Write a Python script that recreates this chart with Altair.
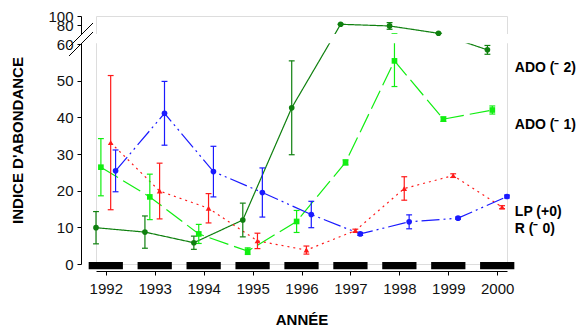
import altair as alt
import pandas as pd

# ---------------- data ----------------
years = [1992, 1993, 1994, 1995, 1996, 1997, 1998, 1999, 2000]

ado2 = [9.9, 8.7, 5.8, 12.0, 42.6, 82.5, 79.0, 63.5, 58.4]
ado2_err = [4.4, 4.4, 1.8, 4.6, 12.8, 0.5, 7.0, 0.5, 1.2]

ado1 = [26.4, 18.3, 8.2, 3.5, 11.6, 27.7, 55.4, 39.5, 42.0]
ado1_err = [7.8, 6.2, 2.6, 0.9, 3.0, 0.7, 7.0, 0.6, 1.1]

r_vals = [33.1, 19.9, 15.2, 6.3, 3.8, 9.1, 20.6, 24.1, 15.5]
r_err = [18.3, 7.6, 4.0, 2.1, 1.1, 0.4, 3.2, 0.5, 0.4]

lp_vals = [25.4, 41.1, 25.2, 19.5, 13.5, 8.2, 11.5, 12.5, 18.4]
lp_err = [5.7, 8.7, 6.9, 6.7, 3.6, 0.4, 1.9, 0.3, 0.4]

series_keys = ["ado2", "ado1", "r", "lp"]
label_texts = ["ADO (\u207b 2)", "ADO (\u207b 1)", "LP (+0)", "R (\u207b 0)"]
label_values = [53.5, 37.9, 14.2, 9.5]

y_ticks = [0, 10, 20, 30, 40, 50, 60, 80, 100]

# ---------------- styles ----------------
offsets = {"ado2": -0.2, "ado1": -0.1, "r": 0.1, "lp": 0.2}
colors = ["#0f800f", "#11ee11", "#ff1a1a", "#1a1aff"]
shapes = ["circle", "square", "triangle-up", "circle"]
dashes = [[1, 0], [20, 6], [2, 4], [18, 4, 2, 4, 2, 4]]
FONT = "Arial, Liberation Sans, sans-serif"

vals = {"ado2": (ado2, ado2_err), "ado1": (ado1, ado1_err),
        "r": (r_vals, r_err), "lp": (lp_vals, lp_err)}
rows = []
for k in series_keys:
    m, e = vals[k]
    for yr, mv, ev in zip(years, m, e):
        rows.append({"series": k, "year": yr, "x": yr + offsets[k],
                     "mean": mv, "lo": mv - ev, "hi": mv + ev})
df = pd.DataFrame(rows)

xs = alt.Scale(domain=[1991.8, 2000.2], nice=False, zero=False)
ys = alt.Scale(domain=[0, 60, 62, 100], range=[248, 28, 18, 0], nice=False, zero=False)
cs = alt.Scale(domain=series_keys, range=colors)

XAX = alt.Axis(
    values=years, format="d", title="ANNÉE", offset=7, tickSize=4,
    labelPadding=6, labelFontSize=15, titleFontSize=15, titleFontWeight="bold",
    titlePadding=16, grid=False, labelFlush=False, labelFont=FONT, titleFont=FONT,
    labelOverlap=False,
    domainColor="#000", tickColor="#000", labelColor="#111", titleColor="#000")
YAX = alt.Axis(
    values=y_ticks, title="INDICE D'ABONDANCE", offset=15, tickSize=4,
    labelPadding=4, labelFontSize=15, titleFontSize=15, titleFontWeight="bold",
    titlePadding=22, grid=False, labelOverlap=False, labelFlush=False,
    labelFont=FONT, titleFont=FONT,
    domainColor="#000", tickColor="#000", labelColor="#111", titleColor="#000")


def XE(f):
    return alt.X(f, scale=xs, axis=XAX, title="ANNÉE")


def YE(f):
    return alt.Y(f, scale=ys, axis=YAX, title="INDICE D'ABONDANCE")


C = alt.Color("series:N", scale=cs, legend=None)

base = alt.Chart(df)

lines = base.mark_line(strokeWidth=1.2).encode(
    x=XE("x:Q"), y=YE("mean:Q"), color=C,
    strokeDash=alt.StrokeDash("series:N", scale=alt.Scale(domain=series_keys, range=dashes), legend=None),
    order="x:Q")

err = base.mark_rule(strokeWidth=1.2).encode(
    x=XE("x:Q"), y=YE("lo:Q"), y2="hi:Q", color=C)

caps = base.transform_calculate(xa="datum.x - 0.06", xb="datum.x + 0.06")
caps_lo = caps.mark_rule(strokeWidth=1.2).encode(
    x=XE("xa:Q"), x2="xb:Q", y=YE("lo:Q"), color=C)
caps_hi = caps.mark_rule(strokeWidth=1.2).encode(
    x=XE("xa:Q"), x2="xb:Q", y=YE("hi:Q"), color=C)

points = base.mark_point(filled=True, opacity=1, size=32).encode(
    x=XE("x:Q"), y=YE("mean:Q"), color=C,
    shape=alt.Shape("series:N", scale=alt.Scale(domain=series_keys, range=shapes), legend=None))

bars_df = pd.DataFrame({"year": years})
bars = alt.Chart(bars_df).transform_calculate(
    xa="datum.year - 0.35", xb="datum.year + 0.35").mark_rect(color="black").encode(
    x=XE("xa:Q"), x2="xb:Q",
    y=alt.datum(0.55, scale=ys, axis=YAX, title="INDICE D'ABONDANCE"), y2=alt.datum(-1.4))

band = alt.Chart(pd.DataFrame({"a": [0]})).mark_rect(color="white").encode(
    x=alt.value(-19), x2=alt.value(420),
    y=alt.datum(60.15, scale=ys, axis=YAX, title="INDICE D'ABONDANCE"), y2=alt.datum(62))

brk1 = alt.Chart(pd.DataFrame({"a": [0]})).mark_rule(color="black", strokeWidth=1).encode(
    x=alt.value(-27), y=alt.value(31), x2=alt.value(-3), y2=alt.value(7))
brk2 = alt.Chart(pd.DataFrame({"a": [0]})).mark_rule(color="black", strokeWidth=1).encode(
    x=alt.value(-27), y=alt.value(40), x2=alt.value(-3), y2=alt.value(16))

lab_df = pd.DataFrame({"label": label_texts, "v": label_values, "x": [2000.36] * 4})
labels = alt.Chart(lab_df).mark_text(
    align="left", baseline="middle", fontWeight="bold", fontSize=14, font=FONT, color="#000").encode(
    x=XE("x:Q"), y=YE("v:Q"), text="label:N")

chart = alt.layer(lines, err, caps_lo, caps_hi, bars, band, points, brk1, brk2, labels).properties(
    width=411, height=248,
    autosize=alt.AutoSizeParams(type="none"),
    padding={"left": 88, "top": 8, "right": 70, "bottom": 62},
).configure_view(stroke=None).configure_axis(labelOverlap=False).configure(background="white")

chart.save("out.html", embed_options={"renderer": "svg", "actions": False})
